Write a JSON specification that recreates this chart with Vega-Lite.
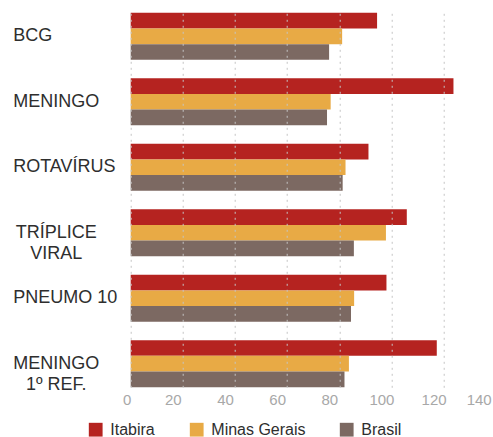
{
  "$schema": "https://vega.github.io/schema/vega-lite/v6.json",
  "autosize": {"type": "none"},
  "padding": {"left": 130.7, "top": 12.7, "right": 0.3, "bottom": 49.7},
  "width": 362,
  "height": 374.6,
  "background": "white",
  "data": {
    "values": [
      {"vacina": "BCG", "local": "Itabira", "valor": 94.5},
      {"vacina": "BCG", "local": "Minas Gerais", "valor": 81.1},
      {"vacina": "BCG", "local": "Brasil", "valor": 76.1},
      {"vacina": "MENINGO", "local": "Itabira", "valor": 123.8},
      {"vacina": "MENINGO", "local": "Minas Gerais", "valor": 76.7},
      {"vacina": "MENINGO", "local": "Brasil", "valor": 75.3},
      {"vacina": "ROTAVÍRUS", "local": "Itabira", "valor": 91.2},
      {"vacina": "ROTAVÍRUS", "local": "Minas Gerais", "valor": 82.4},
      {"vacina": "ROTAVÍRUS", "local": "Brasil", "valor": 81.3},
      {"vacina": "TRÍPLICE|VIRAL", "local": "Itabira", "valor": 105.9},
      {"vacina": "TRÍPLICE|VIRAL", "local": "Minas Gerais", "valor": 97.9},
      {"vacina": "TRÍPLICE|VIRAL", "local": "Brasil", "valor": 85.6},
      {"vacina": "PNEUMO 10", "local": "Itabira", "valor": 98.1},
      {"vacina": "PNEUMO 10", "local": "Minas Gerais", "valor": 85.7},
      {"vacina": "PNEUMO 10", "local": "Brasil", "valor": 84.5},
      {"vacina": "MENINGO|1º REF.", "local": "Itabira", "valor": 117.4},
      {"vacina": "MENINGO|1º REF.", "local": "Minas Gerais", "valor": 83.7},
      {"vacina": "MENINGO|1º REF.", "local": "Brasil", "valor": 82.0}
    ]
  },
  "mark": {"type": "bar"},
  "encoding": {
    "y": {
      "field": "vacina",
      "type": "nominal",
      "sort": null,
      "scale": {"paddingInner": 0.28, "paddingOuter": 0},
      "axis": {
        "title": null,
        "domain": false,
        "ticks": false,
        "grid": false,
        "labelExpr": "split(datum.label, '|')",
        "labelFont": "Liberation Sans",
        "labelFontSize": 18,
        "labelColor": "#2e2e2e",
        "labelLineHeight": 21,
        "labelLimit": 200,
        "labelAlign": {"condition": {"test": "indexof(datum.value, '|') >= 0", "value": "center"}, "value": "left"},
        "labelPadding": {"condition": {"test": "indexof(datum.value, '|') >= 0", "value": 75}, "value": 118}
      }
    },
    "yOffset": {
      "field": "local",
      "type": "nominal",
      "sort": ["Itabira", "Minas Gerais", "Brasil"],
      "scale": {"paddingInner": 0, "paddingOuter": 0}
    },
    "x": {
      "field": "valor",
      "type": "quantitative",
      "scale": {"domain": [0, 140], "range": [0, 365], "nice": false},
      "axis": {
        "title": null,
        "values": [0, 20, 40, 60, 80, 100, 120, 140],
        "domain": false,
        "ticks": false,
        "grid": true,
        "gridColor": "#c4c4c4",
        "gridDash": [2, 4],
        "gridWidth": 1,
        "zindex": 1,
        "labelFlush": false,
        "labelOverlap": false,
        "labelFont": "Liberation Sans",
        "labelFontSize": 15,
        "labelColor": "#a8a8a8",
        "labelPadding": 5,
        "labelOffset": {"condition": [{"test": "datum.value == 0", "value": -4}, {"test": "datum.value == 140", "value": -17}], "value": -10}
      }
    },
    "color": {
      "field": "local",
      "type": "nominal",
      "sort": ["Itabira", "Minas Gerais", "Brasil"],
      "scale": {"domain": ["Itabira", "Minas Gerais", "Brasil"], "range": ["#b52320", "#e8aa45", "#7c6962"]},
      "legend": {
        "title": null,
        "orient": "none",
        "legendX": -43,
        "legendY": 409,
        "direction": "horizontal",
        "columns": 3,
        "columnPadding": 33,
        "symbolType": "square",
        "symbolSize": 190,
        "symbolStrokeWidth": 0,
        "symbolOpacity": 1,
        "labelOffset": 6.6,
        "labelFont": "Liberation Sans",
        "labelFontSize": 16,
        "labelColor": "#2e2e2e"
      }
    }
  },
  "config": {"view": {"stroke": null}}
}
